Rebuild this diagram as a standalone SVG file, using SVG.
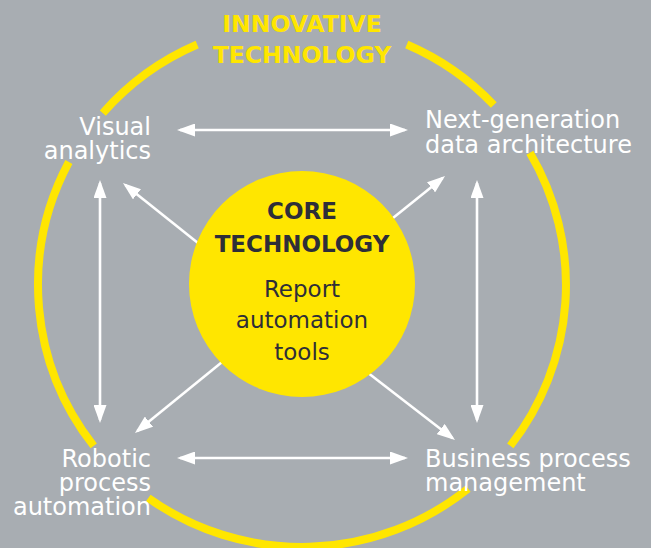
<svg xmlns="http://www.w3.org/2000/svg" width="651" height="548" viewBox="0 0 651 548">
  <style>
    .ring { fill: none; stroke: #ffe600; stroke-width: 8; }
    .conn { stroke: #ffffff; stroke-width: 2.6; fill: none; marker-end: url(#ah); }
    .bi { marker-start: url(#ah); }
    .lbl { font-family: "DejaVu Sans", "Liberation Sans", sans-serif; font-size: 24px; fill: #ffffff; }
    .head { font-family: "DejaVu Sans", "Liberation Sans", sans-serif; font-size: 23.5px; font-weight: bold; fill: #ffe600; }
    .core { font-family: "DejaVu Sans", "Liberation Sans", sans-serif; font-size: 23px; font-weight: bold; fill: #2e2e38; }
    .coretxt { font-family: "DejaVu Sans", "Liberation Sans", sans-serif; font-size: 23px; fill: #2e2e38; }
  </style>
  <defs>
    <marker id="ah" viewBox="0 0 18 13" refX="15" refY="6.5" markerWidth="18" markerHeight="13" markerUnits="userSpaceOnUse" orient="auto-start-reverse">
      <path d="M0,0 L18,6.5 L0,13 Z" fill="#ffffff"/>
    </marker>
  </defs>
  <rect x="0" y="0" width="651" height="548" fill="#a8adb2"/>

  <g id="innovative-ring">
    <path class="ring" d="M406.8,44.5 A264,262 0 0 1 493.8,105"/>
    <path class="ring" d="M529.9,152.8 A264,262 0 0 1 510.3,445.9"/>
    <path class="ring" d="M468.1,488.6 A264,262 0 0 1 148.3,498"/>
    <path class="ring" d="M93.7,445.9 A264,262 0 0 1 68.9,162"/>
    <path class="ring" d="M102.8,113.1 A264,262 0 0 1 197.2,44.5"/>
    <text class="head" x="302" y="32" text-anchor="middle">INNOVATIVE</text>
    <text class="head" x="302" y="63" text-anchor="middle">TECHNOLOGY</text>
  </g>

  <g id="connectors">
    <line class="conn bi" x1="180" y1="130" x2="405" y2="130"/>
    <line class="conn bi" x1="180" y1="458" x2="405" y2="458"/>
    <line class="conn bi" x1="100" y1="183" x2="100" y2="420"/>
    <line class="conn bi" x1="477" y1="183" x2="477" y2="420"/>
    <line class="conn" x1="203" y1="247" x2="125.3" y2="184.9"/>
    <line class="conn" x1="388" y1="222" x2="442.7" y2="177.9"/>
    <line class="conn" x1="227" y1="358" x2="137.3" y2="431.1"/>
    <line class="conn" x1="363" y1="369" x2="452.6" y2="438.2"/>
  </g>

  <g id="core">
    <circle cx="302" cy="284" r="113" fill="#ffe600"/>
    <text class="core" x="302" y="219" text-anchor="middle">CORE</text>
    <text class="core" x="302" y="252" text-anchor="middle">TECHNOLOGY</text>
    <text class="coretxt" x="302" y="297" text-anchor="middle">Report</text>
    <text class="coretxt" x="302" y="328" text-anchor="middle">automation</text>
    <text class="coretxt" x="302" y="360" text-anchor="middle">tools</text>
  </g>

  <g id="visual-analytics">
    <text class="lbl" x="151" y="135" text-anchor="end">Visual</text>
    <text class="lbl" x="151" y="159" text-anchor="end">analytics</text>
  </g>

  <g id="next-gen-data">
    <text class="lbl" x="425" y="128">Next-generation</text>
    <text class="lbl" x="425" y="153">data architecture</text>
  </g>

  <g id="robotic-process">
    <text class="lbl" x="151" y="467" text-anchor="end">Robotic</text>
    <text class="lbl" x="151" y="491" text-anchor="end">process</text>
    <text class="lbl" x="151" y="515" text-anchor="end">automation</text>
  </g>

  <g id="business-process">
    <text class="lbl" x="425" y="467">Business process</text>
    <text class="lbl" x="425" y="491">management</text>
  </g>
</svg>
